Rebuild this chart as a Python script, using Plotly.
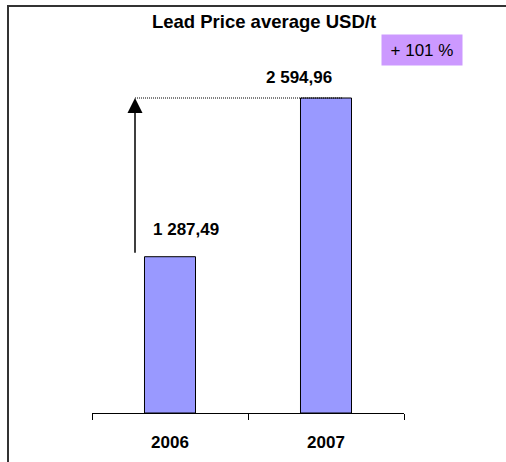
import plotly.graph_objects as go

# ---- data ----
years = ["2006", "2007"]
prices = [1287.49, 2594.96]
title_text = "Lead Price average USD/t"
change_text = "+ 101 %"

def fmt(v):
    s = f"{v:,.2f}"
    return s.replace(",", " ").replace(".", ",")

labels = [fmt(v) for v in prices]

W, H = 506, 462
L, R, T, B = 92, 102, 60, 49
plot_w = W - L - R
plot_h = H - T - B
cat_w = plot_w / 2
ymax = prices[1] * plot_h / 315.0

def px_x(px):
    return (px - L) / plot_w

def px_y(py):
    return (H - B - py) / plot_h

def cat_x(px):
    return -0.5 + (px - L) / cat_w

FONT = "Arial, 'Liberation Sans', sans-serif"

fig = go.Figure()
fig.add_trace(go.Bar(
    x=years, y=prices, width=0.327,
    marker=dict(color="#9999FF", line=dict(color="#000000", width=1)),
    hoverinfo="skip",
))

arrow_x = cat_x(135)
dot_x1 = cat_x(343)

annotations = [
    dict(x=arrow_x, y=prices[1], ax=arrow_x, ay=prices[0] + 20,
         xref="x", yref="y", axref="x", ayref="y",
         showarrow=True, arrowhead=2, arrowsize=2.0, arrowwidth=1.5,
         arrowcolor="#000000", text=""),
    dict(x=cat_x(186), y=prices[0], xref="x", yref="y", text=labels[0],
         showarrow=False, yanchor="middle", yshift=27,
         font=dict(family=FONT, size=17, color="#000000", weight="bold")),
    dict(x=cat_x(298.5), y=prices[1], xref="x", yref="y", text=labels[1],
         showarrow=False, yanchor="middle", yshift=20.5,
         font=dict(family=FONT, size=17, color="#000000", weight="bold")),
    dict(x=px_x(422), y=px_y(50), xref="paper", yref="paper", text=change_text,
         showarrow=False, xanchor="center", yanchor="middle",
         width=78, height=28, bgcolor="#CC99FF",
         font=dict(family=FONT, size=17, color="#000000")),
]

shapes = [
    dict(type="line", xref="x", yref="y", x0=arrow_x, x1=dot_x1,
         y0=prices[1], y1=prices[1], line=dict(color="#000000", width=1, dash="1px,1px")),
    # outer frame: left and top edges (others fall outside the picture)
    dict(type="line", xref="paper", yref="paper",
         x0=px_x(8), x1=px_x(8), y0=px_y(470), y1=px_y(6),
         line=dict(color="#333333", width=2), layer="below"),
    dict(type="line", xref="paper", yref="paper",
         x0=px_x(7), x1=px_x(515), y0=px_y(6), y1=px_y(6),
         line=dict(color="#333333", width=2), layer="below"),
]

fig.update_layout(
    width=W, height=H,
    margin=dict(l=L, r=R, t=T, b=B, autoexpand=False),
    paper_bgcolor="#FFFFFF", plot_bgcolor="#FFFFFF",
    showlegend=False,
    title=dict(text=title_text, xref="container", yref="container",
               x=264 / W, y=1 - 22 / H, xanchor="center", yanchor="middle",
               font=dict(family=FONT, size=18.5, color="#000000", weight="bold")),
    xaxis=dict(type="category", range=[-0.5, 1.5], showline=True, linecolor="#000000",
               linewidth=1, ticks="outside", tickson="boundaries", ticklen=6,
               tickcolor="#000000", tickwidth=1, showgrid=False, zeroline=False,
               ticklabelstandoff=14,
               tickfont=dict(family=FONT, size=17, color="#000000", weight="bold")),
    yaxis=dict(range=[0, ymax], visible=False, showgrid=False, zeroline=False),
    annotations=annotations,
    shapes=shapes,
)

fig.write_html("out.html", config={"displayModeBar": False, "staticPlot": True},
               post_script="document.body.style.margin='0';document.body.style.overflow='hidden';")
